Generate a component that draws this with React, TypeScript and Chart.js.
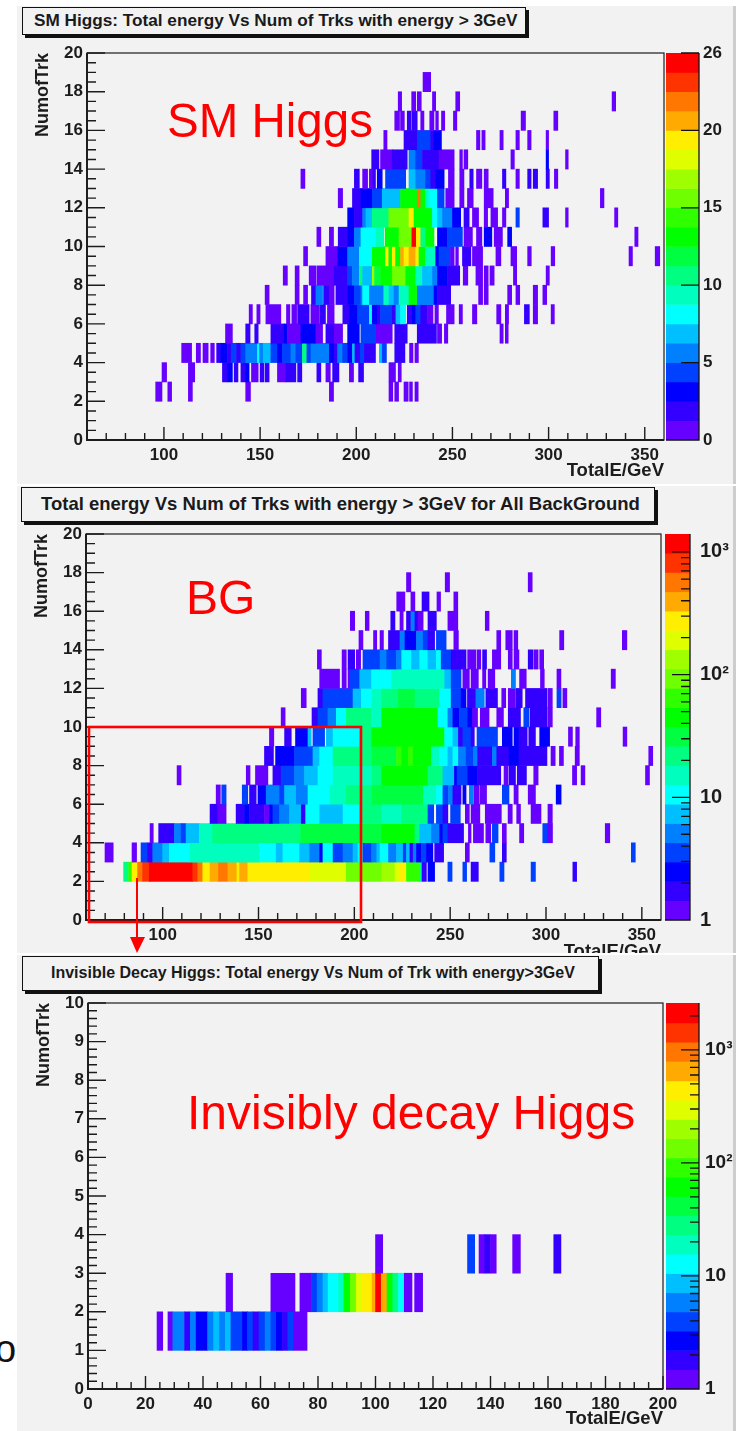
import React, { useEffect, useRef } from "react";
import { Chart, registerables } from "chart.js";

Chart.register(...registerables);

type Seg = [number, number, number];

const paletteColors = ["#6600ff","#3300ff","#0000ff","#0040ff","#0080ff","#00bfff","#00ffff","#00ffbf","#00ff80","#00ff40","#00ff00","#30ff00","#70ff00","#9fff00","#dfff00","#ffee00","#ffaa00","#ff7700","#ff3300","#ff0000"];

const smEdges = [0,1.25,2.5,3.75,5,6.25,7.5,8.75,10,11.25,12.5,13.75,15,16.25,17.5,18.75,20,21.25,22.5,23.75,25];
const bgEdges = [1,1.437,2.064,2.965,4.26,6.12,8.79,12.6,18.1,26.1,37.4,53.8,77.3,111,159.5,229,329,473,679,976,1400];
const invEdges = [1,1.48,2.19,3.25,4.81,7.12,10.5,15.6,23.1,34.2,50.6,74.9,110.9,164.2,243,359.8,532.6,788.5,1167,1728,2600];

// SM Higgs: [E from, E to, entries] per NumofTrk row
const smRow2: Seg[] = [[95.7,99,1],[102,104,1],[112.7,114.8,1],[142.5,145,1],[186,188.2,1],[217,219,1],[220,222,1],[224.8,227,1],[227.7,229.2,1],[230.5,232.2,1]];
const smRow3: Seg[] = [[99,101.4,1],[112.7,116,1],[130.4,133,2],[133,135.6,3],[136.5,138.5,2],[140,142.5,2],[142.5,144.3,3],[145.5,149,1],[150,152,2],[152.6,154.7,2],[159,163.4,1],[163.4,168.6,2],[169.5,171.7,2],[179.5,181.6,2],[184.2,186.5,1],[187.7,191,2],[196.4,198.6,1],[201.2,203.8,2],[217,220.4,1],[221.8,223.4,1]];
const smRow4: Seg[] = [[109.2,114.4,1],[116.8,119,1],[120.3,123,1],[124.3,126.2,1],[127.4,129.5,2],[129.5,133,3],[133,135,2],[135,137.8,4],[137.8,140,2],[140,142.5,4],[142.5,148.6,6],[148.6,149.7,8],[149.7,151.6,6],[151.6,155.6,7],[155.6,159,4],[159,161.6,3],[161.6,166,4],[166,168.6,6],[168.6,172,4],[172,174.3,11],[174.3,176.4,4],[176.4,186,6],[186,188.5,3],[188.5,190.3,2],[190.3,192.9,6],[192.9,195.5,4],[195.5,198,3],[198,199.3,7],[199.3,202,2],[202,204.2,4],[204.2,210,2],[212,213.5,7],[213.5,215.7,4],[220,225.3,2],[227.7,229.5,1],[230.5,232.3,1]];
const smRow5: Seg[] = [[132,135.6,1],[142.5,144.8,2],[147.2,149,2],[155.6,162.5,2],[162.5,164.2,3],[164.2,171.2,1],[171.2,179,3],[179,182.5,1],[184.2,188.5,2],[188.5,192.9,1],[195.5,201.6,3],[202.4,210,4],[210,218.7,1],[220,226.5,2],[231.7,241.7,2],[242.2,244.4,1],[245.8,247.6,1],[274.7,276.4,1],[277.5,279,1]];
const smRow6: Seg[] = [[144.3,146,1],[148.3,150,1],[153,160.8,1],[163.7,165.5,1],[166.5,169,1],[169.5,175.5,2],[176.4,180.7,1],[181,184,2],[185,188.5,1],[193,196.4,2],[196.4,200.7,3],[200.7,206.8,4],[206.8,208.3,8],[208.3,210.9,3],[210.9,212.6,2],[212.6,218.7,4],[218.7,220.4,2],[220.8,223,7],[223,225.7,8],[226.5,229.1,2],[229.1,230.9,3],[230.9,233.5,4],[233.5,237,2],[237,239.9,1],[240.9,242.7,1],[246.9,250.9,1],[253.5,255.2,1],[260.4,262.7,1],[273,275.2,1],[277.5,279.2,1],[287.4,290,2],[292,294.3,1],[301.3,303,1]];
const smRow7: Seg[] = [[152.6,154.7,1],[168.2,170.3,1],[172.6,174.7,1],[176.7,179,2],[179,182.5,6],[183,186,2],[186,188.5,1],[189.4,195.5,2],[195.5,199,3],[199,202.4,4],[202.4,203.3,6],[203.3,206.8,8],[206.8,214.3,6],[214.3,217,9],[217,219.6,7],[219.6,222.2,6],[222.2,227.4,9],[227.4,231.4,13],[231.7,240.4,6],[240.4,242.2,3],[242.2,249.1,2],[263.6,265.7,1],[266.5,268.6,1],[278.7,280.8,1],[283,285,1],[292,294.3,1],[297,299,1]];
const smRow8: Seg[] = [[162,164.2,1],[168.2,170.3,1],[175.5,179,1],[179.5,188.5,1],[188.5,195.5,2],[195.5,198,4],[198,201.6,6],[201.6,203.3,11],[203.3,208.3,7],[208.3,209.5,17],[209.5,212.6,12],[212.6,218.7,13],[218.7,225.7,15],[225.7,230.9,13],[230.9,234.4,9],[234.4,239.6,7],[239.6,242.2,6],[242.2,247.4,3],[247.4,253.8,2],[255.6,258,1],[262.2,265.7,1],[266.5,268.6,1],[269.5,271.7,1],[281.7,283.4,1],[298.7,300.4,1]];
const smRow9: Seg[] = [[172.6,174.7,1],[184.2,190.3,1],[190.3,195.5,3],[195.5,201.6,6],[201.6,208.3,8],[208.3,215.2,13],[215.2,216.9,19],[216.9,218.7,13],[218.7,220.4,19],[220.4,223,13],[223,224.8,20],[224.8,227.4,19],[227.4,230.9,20],[230.9,232.6,19],[232.6,236,13],[236,241.3,9],[241.3,243,3],[243,249,4],[249,250.9,1],[251.7,253.1,1],[255.2,259.6,2],[260.4,265.7,1],[272.6,275.2,1],[280.4,283.4,1],[289.1,291,1],[301.3,303.2,1],[341.8,343.6,1],[355.4,357.8,1]];
const smRow10: Seg[] = [[179.5,181.6,1],[186,188.2,1],[190.6,195.5,2],[195.5,199,3],[199,202.4,6],[202.4,210,8],[210,214.3,9],[215,222.2,13],[222.2,228.3,15],[228.8,231.2,25],[231.2,233.5,19],[233.5,236,11],[236,240.4,13],[242.2,247.4,3],[247.4,255.2,4],[256,260.4,1],[262.5,265.3,1],[266.5,270.5,3],[271.7,276,1],[278.7,280.8,3],[344.8,346.5,1]];
const smRow11: Seg[] = [[195.5,199,3],[199,203.3,2],[203.3,205,6],[205,208.3,7],[208.3,216.9,11],[216.9,227.4,15],[227.4,230,19],[230,239.6,13],[239.6,242.2,8],[242.2,244.8,7],[244.8,250,6],[250,254.3,3],[256,258.7,2],[260.4,263.6,1],[266.5,268.3,1],[270,273.5,1],[276,277.8,1],[283,284.8,4],[297,300,2],[308.8,310.2,1],[334.3,336,1]];
const smRow12: Seg[] = [[190.6,192.9,1],[198,202.4,2],[202.4,208.3,3],[208.3,213.5,4],[213.5,223,7],[223,231.7,13],[231.7,233.5,22],[233.5,236,13],[236,237.8,9],[237.8,242.2,8],[242.2,245.7,4],[246.5,250.9,1],[253.8,256,1],[257.8,260.8,1],[266.5,271.2,1],[277.5,279.2,1],[326.9,328.8,1]];
const smRow13: Seg[] = [[171.2,173.3,1],[199,201.6,2],[203.3,205.9,1],[206.8,208.7,1],[208.7,210,2],[210.9,213.5,3],[215.2,225.7,4],[227.4,230.9,7],[230.9,236,6],[236,238.7,4],[238.7,241.3,2],[241.3,245.7,3],[247.9,250.9,1],[253.8,256,1],[259,260.8,2],[262.5,265.3,1],[266.5,268.6,1],[276,277.8,2],[283,284.8,1],[289.1,290.9,2],[292,294.3,2],[298.7,300.4,2],[303,304.8,1]];
const smRow14: Seg[] = [[208,211.8,2],[212.6,218.7,1],[218.7,226.5,2],[227.4,230.9,6],[230.9,234.4,4],[234.4,243,2],[243,250.9,1],[253.8,255.2,1],[256,258,1],[280.4,282.2,1],[298.7,300,3],[308.8,310.2,1]];
const smRow15: Seg[] = [[214.3,216,1],[224.8,231.7,2],[231.7,238.7,4],[238.7,240.4,2],[240.4,244.3,3],[262.5,264.3,1],[265.3,267,1],[274.7,276.4,1],[283,284.8,1],[289.1,290.9,1],[298.7,300,1]];
const smRow16: Seg[] = [[220,222.5,1],[223,225,1],[226.5,228.3,2],[228.8,231.7,2],[233.5,235.2,1],[238.2,240.4,1],[241.3,242.7,1],[244.3,246,1],[250.5,252.3,1],[285.7,288,1],[302.7,304.8,1]];
const smRow17: Seg[] = [[221.8,223.6,1],[228.8,230.9,1],[231.7,233.8,1],[239.6,241.3,1],[251.7,253.8,1],[333,334.9,1]];
const smRow18: Seg[] = [[234.7,238.7,1]];

// Background
const bgRow2: Seg[] = [[79.6,82.2,22],[82.2,84,65],[84,86.9,270],[86.9,89.5,570],[89.5,93,800],[93,115.7,1200],[115.7,118.3,800],[118.3,120.9,570],[120.9,124.7,270],[124.7,129.1,390],[129.1,134,570],[134,138.7,390],[138.7,140.1,270],[140.1,144.4,390],[144.4,176.7,270],[176.7,195.8,190],[195.8,214.3,90],[214.3,221.2,130],[221.2,223.8,190],[223.8,227.2,270],[227.2,234.1,65],[234.1,235.3,22],[235.3,237.6,2],[238.4,241.9,2.5],[248.8,251,3.5],[256.6,258.6,3.5],[260.9,264.7,2],[275.9,278.1,3.5],[292.2,294.5,3.5],[314,316,2]];
const bgRow3: Seg[] = [[69.9,74.2,1],[84,86.4,1],[88.7,92.2,3.5],[92.2,94.8,2],[94.8,100,5],[100,103.5,7],[103.5,114,10],[114,150.5,15],[150.5,159.2,10],[159.2,162.7,7],[162.7,171.4,10],[171.4,176.7,7],[176.7,181.9,5],[181.9,183.6,2.5],[183.6,188.9,10],[188.9,194.1,3.5],[194.1,199.3,5],[199.3,201.9,7],[201.9,204.5,10],[204.5,209,3.5],[209,211.7,5],[211.7,213.4,7],[213.4,217.8,10],[217.8,222,5],[222,225.5,7],[225.5,227.2,3.5],[227.2,229,7],[229,230.7,2],[230.7,232.4,5],[232.4,235,2.5],[235,237.6,3.5],[237.6,241,2.5],[241.9,246.6,2],[257.9,260,1],[270.7,273.3,3.5],[277.2,279.3,2],[344.5,346.6,3.5]];
const bgRow4: Seg[] = [[93.4,95.1,1],[97.9,106.1,2],[106.1,109.6,5],[109.6,112.2,3.5],[112.2,119.2,7],[119.2,126.1,15],[126.1,136.6,22],[136.6,172,22],[172,214.3,32],[214.3,231.6,45],[231.6,234.1,22],[234.1,240.2,7],[240.2,244.5,5],[244.5,246.2,2.5],[246.2,248.8,3.5],[248.8,257,2],[259.5,260.9,1],[262.1,267.4,1],[268.6,271.2,1],[272,275,3.5],[277.2,279.3,1],[286.2,288.4,1],[298.3,300.9,3.5],[300.9,303.4,1],[330.9,333.3,1]];
const bgRow5: Seg[] = [[124.7,128.7,2],[128.7,133.1,1],[138.3,142.7,2],[142.7,145.3,2.5],[145.3,153.1,2],[153.1,155.7,1],[155.7,157.5,2.5],[157.5,161,3.5],[161,166.2,5],[166.2,172.3,7],[172.3,174.6,2],[174.6,181.9,10],[181.9,194.1,7],[194.1,202.8,10],[202.8,214.3,22],[214.3,224.7,15],[224.7,238.4,22],[238.4,241.4,3.5],[242.8,246.2,3.5],[246.2,248.8,2],[250.2,255.3,3.5],[257.9,260,1],[260.9,265.5,1],[268.3,276.7,1],[280.2,282.4,1],[284.7,286.7,1],[292.2,297.4,1],[301,303.3,1]];
const bgRow6: Seg[] = [[127.9,130.1,1],[130.8,133.1,3.5],[141.5,144.4,3.5],[145.3,148.8,2],[149.7,154,2.5],[154,161,5],[161,163.6,3.5],[163.6,169.7,7],[169.7,175.8,5],[175.8,187.1,10],[187.1,195.8,15],[195.8,209,22],[209,236,32],[236,242.8,15],[242.8,246.2,10],[246.2,249.1,3.5],[249.1,251.4,5],[251.4,255.7,2],[256.6,258.3,2.5],[260,262.2,5],[262.6,265.2,1],[265.7,269,1],[277.2,280.7,3.5],[283.3,285.5,1],[290.7,294.5,1],[305.3,307.9,2.5]];
const bgRow7: Seg[] = [[107.5,109.6,1],[143.6,145.6,1],[148.4,154.9,1],[157.5,161.8,2],[161.8,168.8,3.5],[168.8,174,5],[174,181,7],[181,188.9,10],[188.9,209,15],[209,214.3,22],[214.3,238.4,45],[238.4,246.2,22],[246.2,252.2,7],[252.2,253.6,2.5],[253.6,259.1,3.5],[259.1,264.3,2.5],[264.3,276.4,2],[278.1,280.2,1],[280.7,284.1,2],[285,289.8,2],[293.6,295.9,1],[313.8,316,1],[318.3,320.3,1],[351.9,354,1]];
const bgRow8: Seg[] = [[153.1,157.8,2],[158.9,168.8,2.5],[168.8,178.4,3.5],[178.4,181.9,7],[181.9,188.9,10],[188.9,209,22],[209,222,32],[222,224.7,65],[224.7,228.1,45],[228.1,230.7,65],[230.7,240.2,45],[240.2,244.5,15],[244.5,248.8,10],[248.8,251.4,7],[251.4,254.3,10],[254.3,258.3,5],[258.3,262.2,3.5],[262.2,264.3,5],[264.3,272,2],[272,274.3,5],[274.3,280.7,2],[280.7,285.9,2.5],[285.9,300.5,2],[302.6,304.8,1],[307,309.1,1],[315.2,317.4,1],[353.6,355.7,1]];
const bgRow9: Seg[] = [[155.7,158,1],[163.6,167.1,2],[169.3,175.8,2.5],[175.8,177.5,7],[178.4,184.5,3.5],[185.4,188.9,7],[188.9,202.8,10],[202.8,209,22],[209,247.1,45],[247.1,251.4,10],[251.4,254.3,7],[254.3,256.6,2],[256.6,260.9,3.5],[260.9,262.6,2],[264,274.7,3.5],[277.2,282.4,2.5],[283.3,285.9,2.5],[285.9,290.2,2],[291,294.5,2],[296.7,301.9,2.5],[311.7,313.8,1],[315.5,317.4,1],[340.2,342.2,1]];
const bgRow10: Seg[] = [[161.8,163.9,1],[177.9,181,2],[181,186.2,3.5],[186.2,190.6,5],[190.6,195.8,10],[195.8,209,22],[209,214.3,15],[214.3,243.6,45],[243.6,248.8,10],[248.8,251.4,5],[251.4,254.8,2.5],[254.8,259.1,3.5],[259.1,261.7,2.5],[261.7,264.3,1],[265.7,270.3,1],[274.3,277.8,1],[280.3,286.7,2],[288.4,291,3.5],[291.6,300.5,2],[300.9,303.3,1],[326.4,328.6,1]];
const bgRow11: Seg[] = [[172.3,174.9,1],[181,183.6,2],[183.6,199.3,3.5],[199.3,203.7,7],[203.7,209,10],[209,214.3,15],[214.3,222.9,22],[222.9,231.6,32],[231.6,244.5,22],[244.5,250.5,10],[250.5,255.7,3.5],[255.7,258.3,2.5],[259,263.4,2],[263.4,267.8,5],[268.6,274.7,2],[276.9,279,1],[280.3,284.1,1],[284.5,287.6,2],[289.3,300.5,2],[301,303.3,1],[305.7,307.9,3.5],[308.8,310.9,1]];
const bgRow12: Seg[] = [[181.9,192.3,1],[193.6,195.8,1],[196.7,197.6,1],[197.6,202.8,3.5],[202.8,209,7],[209,219.5,10],[219.5,247.1,15],[247.1,250.5,7],[250.5,255.7,3.5],[256.6,260,1],[260.9,264.7,1],[266.9,268.6,1],[269.8,273.3,1],[281.9,284.1,5],[286.2,289.7,1],[297.1,299.1,1],[305.7,307.8,1],[334,336.2,1]];
const bgRow13: Seg[] = [[180.7,182.8,1],[193.6,195.8,1],[196.7,200.2,2],[201,203.3,1],[204.5,213.4,3.5],[213.4,216.9,5],[216.9,222,3.5],[222,224.7,5],[224.7,229.8,10],[229.8,234.1,7],[234.1,238.4,10],[238.4,242.8,7],[242.8,245.3,10],[245.3,250.5,3.5],[250.5,258.3,2],[259.1,263.4,1],[264,266,1],[266.9,269,2],[272,276.4,1],[280.3,282.4,1],[283.3,285.9,1],[290.7,293.1,2],[293.6,295.9,1],[296.7,298.8,1]];
const bgRow14: Seg[] = [[202.4,204.5,1],[210,211.7,1],[213.4,215.2,1],[217.8,223.8,2],[223.8,226.4,5],[226.4,232.4,2.5],[232.4,235.9,5],[235.9,238.4,3.5],[238.4,241.9,2],[242.8,247.9,3.5],[251.9,254.3,1],[274.3,276.4,1],[279,282.4,1],[283.3,285.3,1],[307.1,309.3,1],[339.8,342.2,1]];
const bgRow15: Seg[] = [[197.9,200.2,1],[205.7,207.7,1],[219,221.2,2],[223.8,225.5,1],[227.2,229.5,2],[229.5,231.6,5],[231.6,233.3,2],[233.3,235.9,1],[238.4,242.8,2],[248.8,254,1],[268.3,270.3,1]];
const bgRow16: Seg[] = [[222.1,226.4,1],[229.5,231.6,1],[235.3,239,2],[243.1,245,1],[251.9,254,1]];
const bgRow17: Seg[] = [[227.2,229.5,1],[247.4,249.7,1],[290.7,292.8,1]];

// Invisibly decaying Higgs
const invRow1: Seg[] = [[24,26,1],[27.8,29.5,1],[29.5,33.6,6],[33.6,35.6,2],[35.6,37.6,6],[37.6,41.6,3],[41.6,43.7,6],[43.7,45.7,9],[45.7,47.8,6],[47.8,49.7,9],[49.7,53.7,4],[53.7,55.5,3],[55.5,57.4,4],[57.4,59.5,2],[59.5,61.6,4],[61.6,63.6,6],[63.6,65.5,4],[65.5,67.6,3],[67.6,69.5,2],[69.5,71.6,4],[71.6,76.2,1]];
const invRow2: Seg[] = [[48,50.3,1],[63.6,72,1],[73.7,77.7,1],[77.7,79.7,4],[79.7,81.7,6],[81.7,83.5,9],[83.5,87.2,13],[87.2,89,19],[89,91.2,61],[91.2,93.3,134],[93.3,95.3,293],[95.3,98.8,434],[98.8,100,642],[100,102,2100],[102,104,642],[104,106,61],[106,108,28],[108,110,13],[110,112.7,1],[113.6,116.4,1]];
const invRow3: Seg[] = [[100,102.5,1],[132,134.5,4],[136,138,1],[138,140,2],[140,142,1],[147.7,150.4,1],[162,164.5,2]];

const smRows: [number, Seg[]][] = [[2,smRow2],[3,smRow3],[4,smRow4],[5,smRow5],[6,smRow6],[7,smRow7],[8,smRow8],[9,smRow9],[10,smRow10],[11,smRow11],[12,smRow12],[13,smRow13],[14,smRow14],[15,smRow15],[16,smRow16],[17,smRow17],[18,smRow18]];
const bgRows: [number, Seg[]][] = [[2,bgRow2],[3,bgRow3],[4,bgRow4],[5,bgRow5],[6,bgRow6],[7,bgRow7],[8,bgRow8],[9,bgRow9],[10,bgRow10],[11,bgRow11],[12,bgRow12],[13,bgRow13],[14,bgRow14],[15,bgRow15],[16,bgRow16],[17,bgRow17]];
const invRows: [number, Seg[]][] = [[1,invRow1],[2,invRow2],[3,invRow3]];

const energyTicks = [100,150,200,250,300,350];
const energyMinor = [70,80,90,110,120,130,140,160,170,180,190,210,220,230,240,260,270,280,290,310,320,330,340];
const trkTicks = [0,2,4,6,8,10,12,14,16,18,20];
const trkMinor = [0.5,1,1.5,2.5,3,3.5,4.5,5,5.5,6.5,7,7.5,8.5,9,9.5,10.5,11,11.5,12.5,13,13.5,14.5,15,15.5,16.5,17,17.5,18.5,19,19.5];
const invEnergyTicks = [0,20,40,60,80,100,120,140,160,180,200];
const invEnergyMinor = [5,10,15,25,30,35,45,50,55,65,70,75,85,90,95,105,110,115,125,130,135,145,150,155,165,170,175,185,190,195];
const invTrkTicks = [0,1,2,3,4,5,6,7,8,9,10];
const invTrkMinor = [0.2,0.4,0.6,0.8,1.2,1.4,1.6,1.8,2.2,2.4,2.6,2.8,3.2,3.4,3.6,3.8,4.2,4.4,4.6,4.8,5.2,5.4,5.6,5.8,6.2,6.4,6.6,6.8,7.2,7.4,7.6,7.8,8.2,8.4,8.6,8.8,9.2,9.4,9.6,9.8];

const smPaletteTicks = [0,5,10,15,20,25];
const smPaletteLabels = ["0","5","10","15","20","26"];
const logMinorBg = [2,3,4,5,6,7,8,9,20,30,40,50,60,70,80,90,200,300,400,500,600,700,800,900];
const logMinorInv = [...logMinorBg,2000];
const bgPaletteTicks = [1,10,100,1000];
const invPaletteTicks = [1,10,100,1000];
const logLabels = ["1","10","10²","10³"];

const titleSm = "SM Higgs: Total energy Vs Num of Trks with energy > 3GeV";
const titleBg = "Total energy Vs Num of Trks with energy > 3GeV for All BackGround";
const titleInv = "Invisible Decay Higgs: Total energy Vs Num of Trk with energy>3GeV";
const yTitle = "NumofTrk";
const xTitle = "TotalE/GeV";

const FONT = "'Liberation Sans', Arial, sans-serif";
const INK = "#1c1c1c";
const PANEL_LEFT = 17;

function colorOf(v: number, edges: number[]) {
  for (let i = paletteColors.length - 1; i >= 0; i--) if (v >= edges[i]) return paletteColors[i];
  return paletteColors[0];
}

function hist(cfg: any) {
  const plotH = cfg.bottom - cfg.top;
  const L = cfg.left - cfg.canvasLeft, B = cfg.bottomPad, T = 16, R = 22;
  const cv: HTMLCanvasElement = cfg.canvas;
  cv.width = cfg.right - cfg.canvasLeft + R;
  cv.height = T + plotH + B;
  cv.style.left = `${cfg.canvasLeft - PANEL_LEFT}px`;
  cv.style.top = `${cfg.top - T - cfg.pageTop}px`;
  const pts = cfg.rows.flatMap(([r, segs]: [number, Seg[]]) => segs.map(([a, b, v]) => ({ x: [a, b], y: r + 0.5, v })));
  const plugin = {
    id: "rootAxes",
    afterDatasetsDraw(chart: any) {
      const { ctx, chartArea: a, scales: { x, y } } = chart;
      ctx.save();
      ctx.strokeStyle = INK;
      ctx.lineWidth = 1.4;
      ctx.beginPath();
      cfg.xMajor.forEach((v: number) => { const p = x.getPixelForValue(v); ctx.moveTo(p, a.bottom); ctx.lineTo(p, a.bottom - 13); });
      cfg.xMinor.forEach((v: number) => { const p = x.getPixelForValue(v); ctx.moveTo(p, a.bottom); ctx.lineTo(p, a.bottom - 7); });
      cfg.yMajor.forEach((v: number) => { const p = y.getPixelForValue(v); ctx.moveTo(a.left, p); ctx.lineTo(a.left + 18, p); });
      cfg.yMinor.forEach((v: number) => { const p = y.getPixelForValue(v); ctx.moveTo(a.left, p); ctx.lineTo(a.left + 9, p); });
      ctx.stroke();
      ctx.lineWidth = 1.2;
      ctx.strokeRect(a.left, a.top, a.right - a.left, a.bottom - a.top);
      ctx.lineWidth = 1.9;
      ctx.beginPath();
      ctx.moveTo(a.left, a.top); ctx.lineTo(a.left, a.bottom); ctx.lineTo(a.right, a.bottom);
      ctx.stroke();
      ctx.restore();
    },
  };
  return new Chart(cv, {
    type: "bar",
    data: { datasets: [{ data: pts, backgroundColor: pts.map((p: any) => colorOf(p.v, cfg.edges)), barThickness: plotH / cfg.yMax, borderWidth: 0, inflateAmount: 0.3 } as any] },
    plugins: [plugin],
    options: {
      indexAxis: "y",
      animation: false,
      responsive: false,
      events: [],
      layout: { autoPadding: false, padding: { left: 0, right: R, top: T, bottom: 0 } },
      plugins: { legend: { display: false }, title: { display: false }, tooltip: { enabled: false } },
      scales: {
        x: {
          type: "linear", min: cfg.xMin, max: cfg.xMax, offset: false,
          grid: { display: false, offset: false, drawTicks: false }, border: { display: false },
          afterBuildTicks: (s: any) => { s.ticks = cfg.xMajor.map((value: number) => ({ value })); },
          afterFit: (s: any) => { s.height = B; },
          ticks: { autoSkip: false, maxRotation: 0, padding: 5, color: INK, font: { family: FONT, size: 17, weight: "bold" }, callback: (v: any) => String(v) },
          title: { display: true, text: xTitle, align: "end", color: INK, padding: 0, font: { family: FONT, size: 18.5, weight: "bold" } },
        },
        y: {
          type: "linear", min: 0, max: cfg.yMax, offset: false,
          grid: { display: false, offset: false, drawTicks: false }, border: { display: false },
          afterBuildTicks: (s: any) => { s.ticks = cfg.yMajor.map((value: number) => ({ value })); },
          afterFit: (s: any) => { s.width = L; },
          ticks: { autoSkip: false, padding: 4, color: INK, font: { family: FONT, size: 17, weight: "bold" }, callback: (v: any) => String(v) },
          title: { display: true, text: yTitle, align: "end", color: INK, padding: 0, font: { family: FONT, size: 18, weight: "bold" } },
        },
      },
    } as any,
  });
}

function palette(cfg: any) {
  const T = 24, B = 24;
  const width = cfg.right - cfg.left;
  const cv: HTMLCanvasElement = cfg.canvas;
  cv.width = cfg.canvasW;
  cv.height = cfg.bottom - cfg.top + T + B;
  cv.style.left = `${cfg.left - PANEL_LEFT}px`;
  cv.style.top = `${cfg.top - T - cfg.pageTop}px`;
  const pts = paletteColors.map((_, i) => ({ x: 0.5, y: [cfg.edges[i], cfg.edges[i + 1]] }));
  const plugin = {
    id: "paletteTicks",
    afterDatasetsDraw(chart: any) {
      const { ctx, chartArea: a, scales: { y } } = chart;
      ctx.save();
      ctx.strokeStyle = "#111";
      ctx.lineWidth = 1.3;
      ctx.beginPath();
      cfg.major.forEach((v: number) => { const p = y.getPixelForValue(v); ctx.moveTo(a.right, p); ctx.lineTo(a.right - 18, p); });
      cfg.minor.forEach((v: number) => { const p = y.getPixelForValue(v); ctx.moveTo(a.right, p); ctx.lineTo(a.right - 9, p); });
      ctx.moveTo(a.right, a.top); ctx.lineTo(a.right, a.bottom); ctx.lineTo(a.left, a.bottom);
      ctx.stroke();
      ctx.restore();
    },
  };
  return new Chart(cv, {
    type: "bar",
    data: { datasets: [{ data: pts, backgroundColor: paletteColors, barThickness: width, borderWidth: 0, inflateAmount: 0.3 } as any] },
    plugins: [plugin],
    options: {
      animation: false,
      responsive: false,
      events: [],
      layout: { autoPadding: false, padding: { left: 0, right: 0, top: T, bottom: B } },
      plugins: { legend: { display: false }, title: { display: false }, tooltip: { enabled: false } },
      scales: {
        x: { type: "linear", min: 0, max: 1, offset: false, display: false, grid: { offset: false } },
        y: {
          type: cfg.log ? "logarithmic" : "linear", position: "right", min: cfg.edges[0], max: cfg.edges[20], offset: false,
          grid: { display: false, drawTicks: false }, border: { display: false },
          afterBuildTicks: (s: any) => { s.ticks = cfg.major.map((value: number) => ({ value })); },
          afterFit: (s: any) => { s.width = cfg.canvasW - width; },
          ticks: {
            autoSkip: false, padding: cfg.pad, color: INK, font: { family: FONT, size: cfg.fontSize, weight: "bold" },
            callback: (v: any) => cfg.labels[cfg.major.indexOf(v)],
          },
        },
      },
    } as any,
  });
}

const panelStyle = (top: number, h: number): React.CSSProperties => ({
  position: "absolute", left: PANEL_LEFT, top, width: 716, height: h, background: "#f2f2f2", overflow: "hidden", borderRight: "3px solid #cdcdcd",
});

function TitleBox({ x, y, w, h, tx, size, weight, text, pageTop }: any) {
  return (
    <div style={{ position: "absolute", left: x - PANEL_LEFT, top: y - pageTop, width: w, height: h, boxSizing: "border-box", border: "1.5px solid #111", boxShadow: "3px 3px 0 #111", background: "#f2f2f2" }}>
      <div style={{ position: "absolute", left: tx - x, top: 0, height: h - 3, lineHeight: `${h - 3}px`, whiteSpace: "nowrap", fontFamily: FONT, fontSize: size, fontWeight: weight, color: "#1a1a1a" }}>{text}</div>
    </div>
  );
}

function RedLabel({ x, baseline, size, text }: any) {
  return <div style={{ position: "absolute", left: x, top: baseline - size * 0.8465, fontFamily: FONT, fontSize: size, lineHeight: 1, color: "#ff0000", whiteSpace: "nowrap" }}>{text}</div>;
}

export default function App() {
  const h1 = useRef<HTMLCanvasElement>(null), p1 = useRef<HTMLCanvasElement>(null);
  const h2 = useRef<HTMLCanvasElement>(null), p2 = useRef<HTMLCanvasElement>(null);
  const h3 = useRef<HTMLCanvasElement>(null), p3 = useRef<HTMLCanvasElement>(null);

  useEffect(() => {
    const charts = [
      hist({ canvas: h1.current, pageTop: 6, canvasLeft: 32, left: 87, right: 664, top: 53, bottom: 440, bottomPad: 42, rows: smRows, edges: smEdges, xMin: 60, xMax: 360, yMax: 20, xMajor: energyTicks, xMinor: energyMinor, yMajor: trkTicks, yMinor: trkMinor }),
      palette({ canvas: p1.current, pageTop: 6, top: 53, bottom: 440, left: 666, right: 699, canvasW: 67, edges: smEdges, major: smPaletteTicks, minor: [], labels: smPaletteLabels, log: false, pad: 4, fontSize: 17 }),
      hist({ canvas: h2.current, pageTop: 486, canvasLeft: 31, left: 86, right: 661, top: 534, bottom: 920, bottomPad: 43, rows: bgRows, edges: bgEdges, xMin: 60, xMax: 360, yMax: 20, xMajor: energyTicks, xMinor: energyMinor, yMajor: trkTicks, yMinor: trkMinor }),
      palette({ canvas: p2.current, pageTop: 486, top: 534, bottom: 920, left: 665, right: 690, canvasW: 68, edges: bgEdges, major: bgPaletteTicks, minor: logMinorBg, labels: logLabels, log: true, pad: 10, fontSize: 20 }),
      hist({ canvas: h3.current, pageTop: 955, canvasLeft: 33, left: 88, right: 663, top: 1003, bottom: 1389, bottomPad: 41, rows: invRows, edges: invEdges, xMin: 0, xMax: 200, yMax: 10, xMajor: invEnergyTicks, xMinor: invEnergyMinor, yMajor: invTrkTicks, yMinor: invTrkMinor }),
      palette({ canvas: p3.current, pageTop: 955, top: 1003, bottom: 1389, left: 666, right: 699, canvasW: 67, edges: invEdges, major: invPaletteTicks, minor: logMinorInv, labels: logLabels, log: true, pad: 6, fontSize: 19 }),
    ];
    return () => charts.forEach((c) => c.destroy());
  }, []);

  const abs: React.CSSProperties = { position: "absolute", display: "block" };

  return (
    <div style={{ position: "absolute", left: 0, top: 0, width: 744, height: 1431, overflow: "hidden", background: "#fff", filter: "blur(0.35px)" }}>
      <div style={panelStyle(6, 478)}>
        <TitleBox x={22} y={7} w={504} h={28} tx={33} size={17.2} weight="bold" text={titleSm} pageTop={6} />
        <canvas ref={h1} style={abs} />
        <canvas ref={p1} style={abs} />
      </div>
      <div style={panelStyle(486, 467)}>
        <TitleBox x={21} y={487} w={634} h={35} tx={40} size={18.5} weight="bold" text={titleBg} pageTop={486} />
        <canvas ref={h2} style={abs} />
        <canvas ref={p2} style={abs} />
      </div>
      <div style={panelStyle(955, 476)}>
        <TitleBox x={22} y={956} w={577} h={35} tx={50} size={16} weight="bold" text={titleInv} pageTop={955} />
        <canvas ref={h3} style={abs} />
        <canvas ref={p3} style={abs} />
      </div>
      <RedLabel x={167} baseline={137} size={47.5} text="SM Higgs" />
      <RedLabel x={186} baseline={615} size={48} text="BG" />
      <RedLabel x={187} baseline={1130} size={48} text="Invisibly decay Higgs" />
      <div style={{ position: "absolute", left: -5, top: 1330, fontFamily: FONT, fontSize: 38, lineHeight: "38px", color: "#111" }}>o</div>
      <svg width={744} height={1431} style={{ position: "absolute", left: 0, top: 0, pointerEvents: "none" }}>
        <rect x={89} y={727} width={272} height={195} fill="none" stroke="#ff0000" strokeWidth={2.6} />
        <line x1={137} y1={878} x2={137} y2={940} stroke="#ff0000" strokeWidth={2} />
        <polygon points="130,937 145,937 137,953" fill="#ff0000" />
      </svg>
    </div>
  );
}
